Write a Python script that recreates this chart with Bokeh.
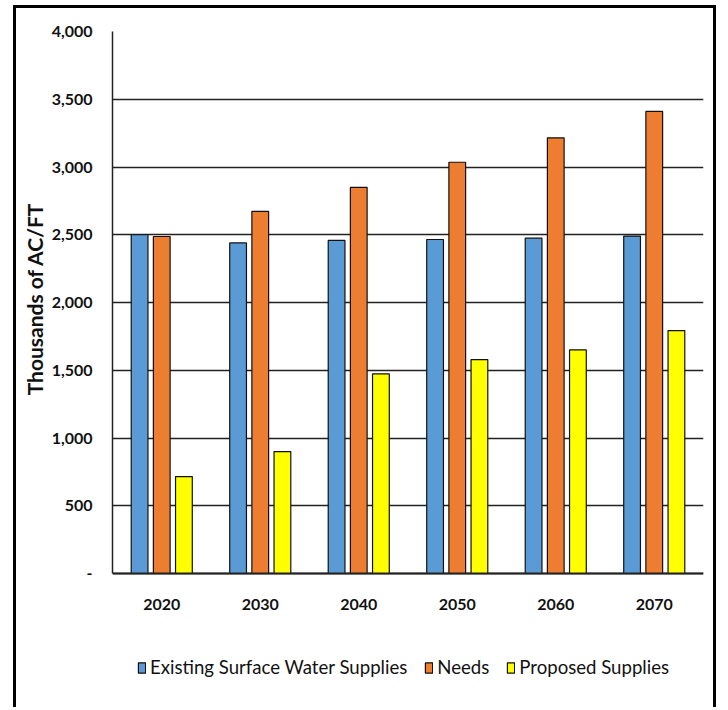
from bokeh.plotting import figure
from bokeh.models import (ColumnDataSource, FactorRange, Range1d, Legend, LegendItem,
                          NumeralTickFormatter, FixedTicker, CategoricalAxis, Title)
from bokeh.transform import dodge
from bokeh.embed import file_html
from bokeh.resources import INLINE

# Surface water supply vs. need projections, thousands of acre-feet
years = ["2020", "2030", "2040", "2050", "2060", "2070"]
existing = [2500, 2440, 2458, 2465, 2475, 2490]
needs = [2487, 2672, 2850, 3035, 3215, 3410]
proposed = [715, 900, 1474, 1579, 1651, 1793]
y_ticks = [0, 500, 1000, 1500, 2000, 2500, 3000, 3500, 4000]

series_names = ["Existing Surface Water Supplies", "Needs", "Proposed Supplies"]
colors = ["#5B9BD5", "#ED7D31", "#FFFF00"]

FONT = "Lato"

source = ColumnDataSource(dict(years=years, existing=existing, needs=needs, proposed=proposed))

# the frame runs below zero so the year labels and legend row share the plot area
p = figure(width=703, height=702, x_range=FactorRange(*years), y_range=Range1d(-952, 4000),
           x_axis_location=None, output_backend="svg", toolbar_location=None,
           min_border_left=96, min_border_right=16, min_border_top=23, min_border_bottom=8)
p.outline_line_color = None
p.background_fill_color = "white"
p.border_fill_color = "white"
# black frame around the whole chart (open at the bottom edge of the page)
p.margin = (5, 0, 0, 13)
p.styles = {"border-left": "3px solid black", "border-top": "3px solid black",
            "border-right": "3px solid black"}

renderers = []
for field, offset, color in zip(["existing", "needs", "proposed"], [-0.225, 0.0, 0.225], colors):
    r = p.vbar(x=dodge("years", offset, range=p.x_range), top=field, bottom=0, width=0.17,
               source=source, fill_color=color, line_color="#111111", line_width=1.2)
    renderers.append(r)

# y axis
p.yaxis.ticker = FixedTicker(ticks=y_ticks)
p.yaxis.bounds = (0, 4000)
p.yaxis.formatter = NumeralTickFormatter(format="0,0")
p.yaxis.major_label_overrides = {0: "-"}
p.yaxis.major_label_text_font = FONT
p.yaxis.major_label_text_font_style = "bold"
p.yaxis.major_label_text_font_size = "16px"
p.yaxis.major_label_text_color = "#111111"
p.yaxis.major_label_standoff = 20
p.yaxis.major_tick_line_color = None
p.yaxis.major_tick_out = 0
p.yaxis.major_tick_in = 0
p.yaxis.minor_tick_line_color = None
p.yaxis.minor_tick_out = 0
p.yaxis.axis_line_color = "#222222"
p.yaxis.axis_line_width = 1.5

# y axis title, aligned to the top of the value axis
y_title = Title(text="Thousands of AC/FT", align="right", offset=171, standoff=3,
                text_font=FONT, text_font_style="bold", text_font_size="21px",
                text_color="#111111")
p.add_layout(y_title, "left")

# x axis pinned at zero
xaxis = CategoricalAxis(fixed_location=0)
xaxis.major_label_text_font = FONT
xaxis.major_label_text_font_style = "bold"
xaxis.major_label_text_font_size = "16px"
xaxis.major_label_text_color = "#111111"
xaxis.major_label_standoff = 25
xaxis.major_tick_line_color = None
xaxis.major_tick_out = 0
xaxis.major_tick_in = 0
xaxis.minor_tick_line_color = None
xaxis.axis_line_color = "#222222"
xaxis.axis_line_width = 2
p.add_layout(xaxis, "below")

p.xgrid.grid_line_color = None
p.ygrid.grid_line_color = "#222222"
p.ygrid.grid_line_width = 1.5

# legend row under the year labels
legend = Legend(items=[LegendItem(label=n, renderers=[r]) for n, r in zip(series_names, renderers)],
                orientation="horizontal", location=(25, 24),
                glyph_width=9, glyph_height=13, label_standoff=4, spacing=17,
                label_text_font=FONT, label_text_font_size="18.6px", label_text_color="#111111",
                border_line_color=None, background_fill_alpha=0, margin=0, padding=0)
p.add_layout(legend)

open("out.html", "w").write(file_html(p, INLINE))
